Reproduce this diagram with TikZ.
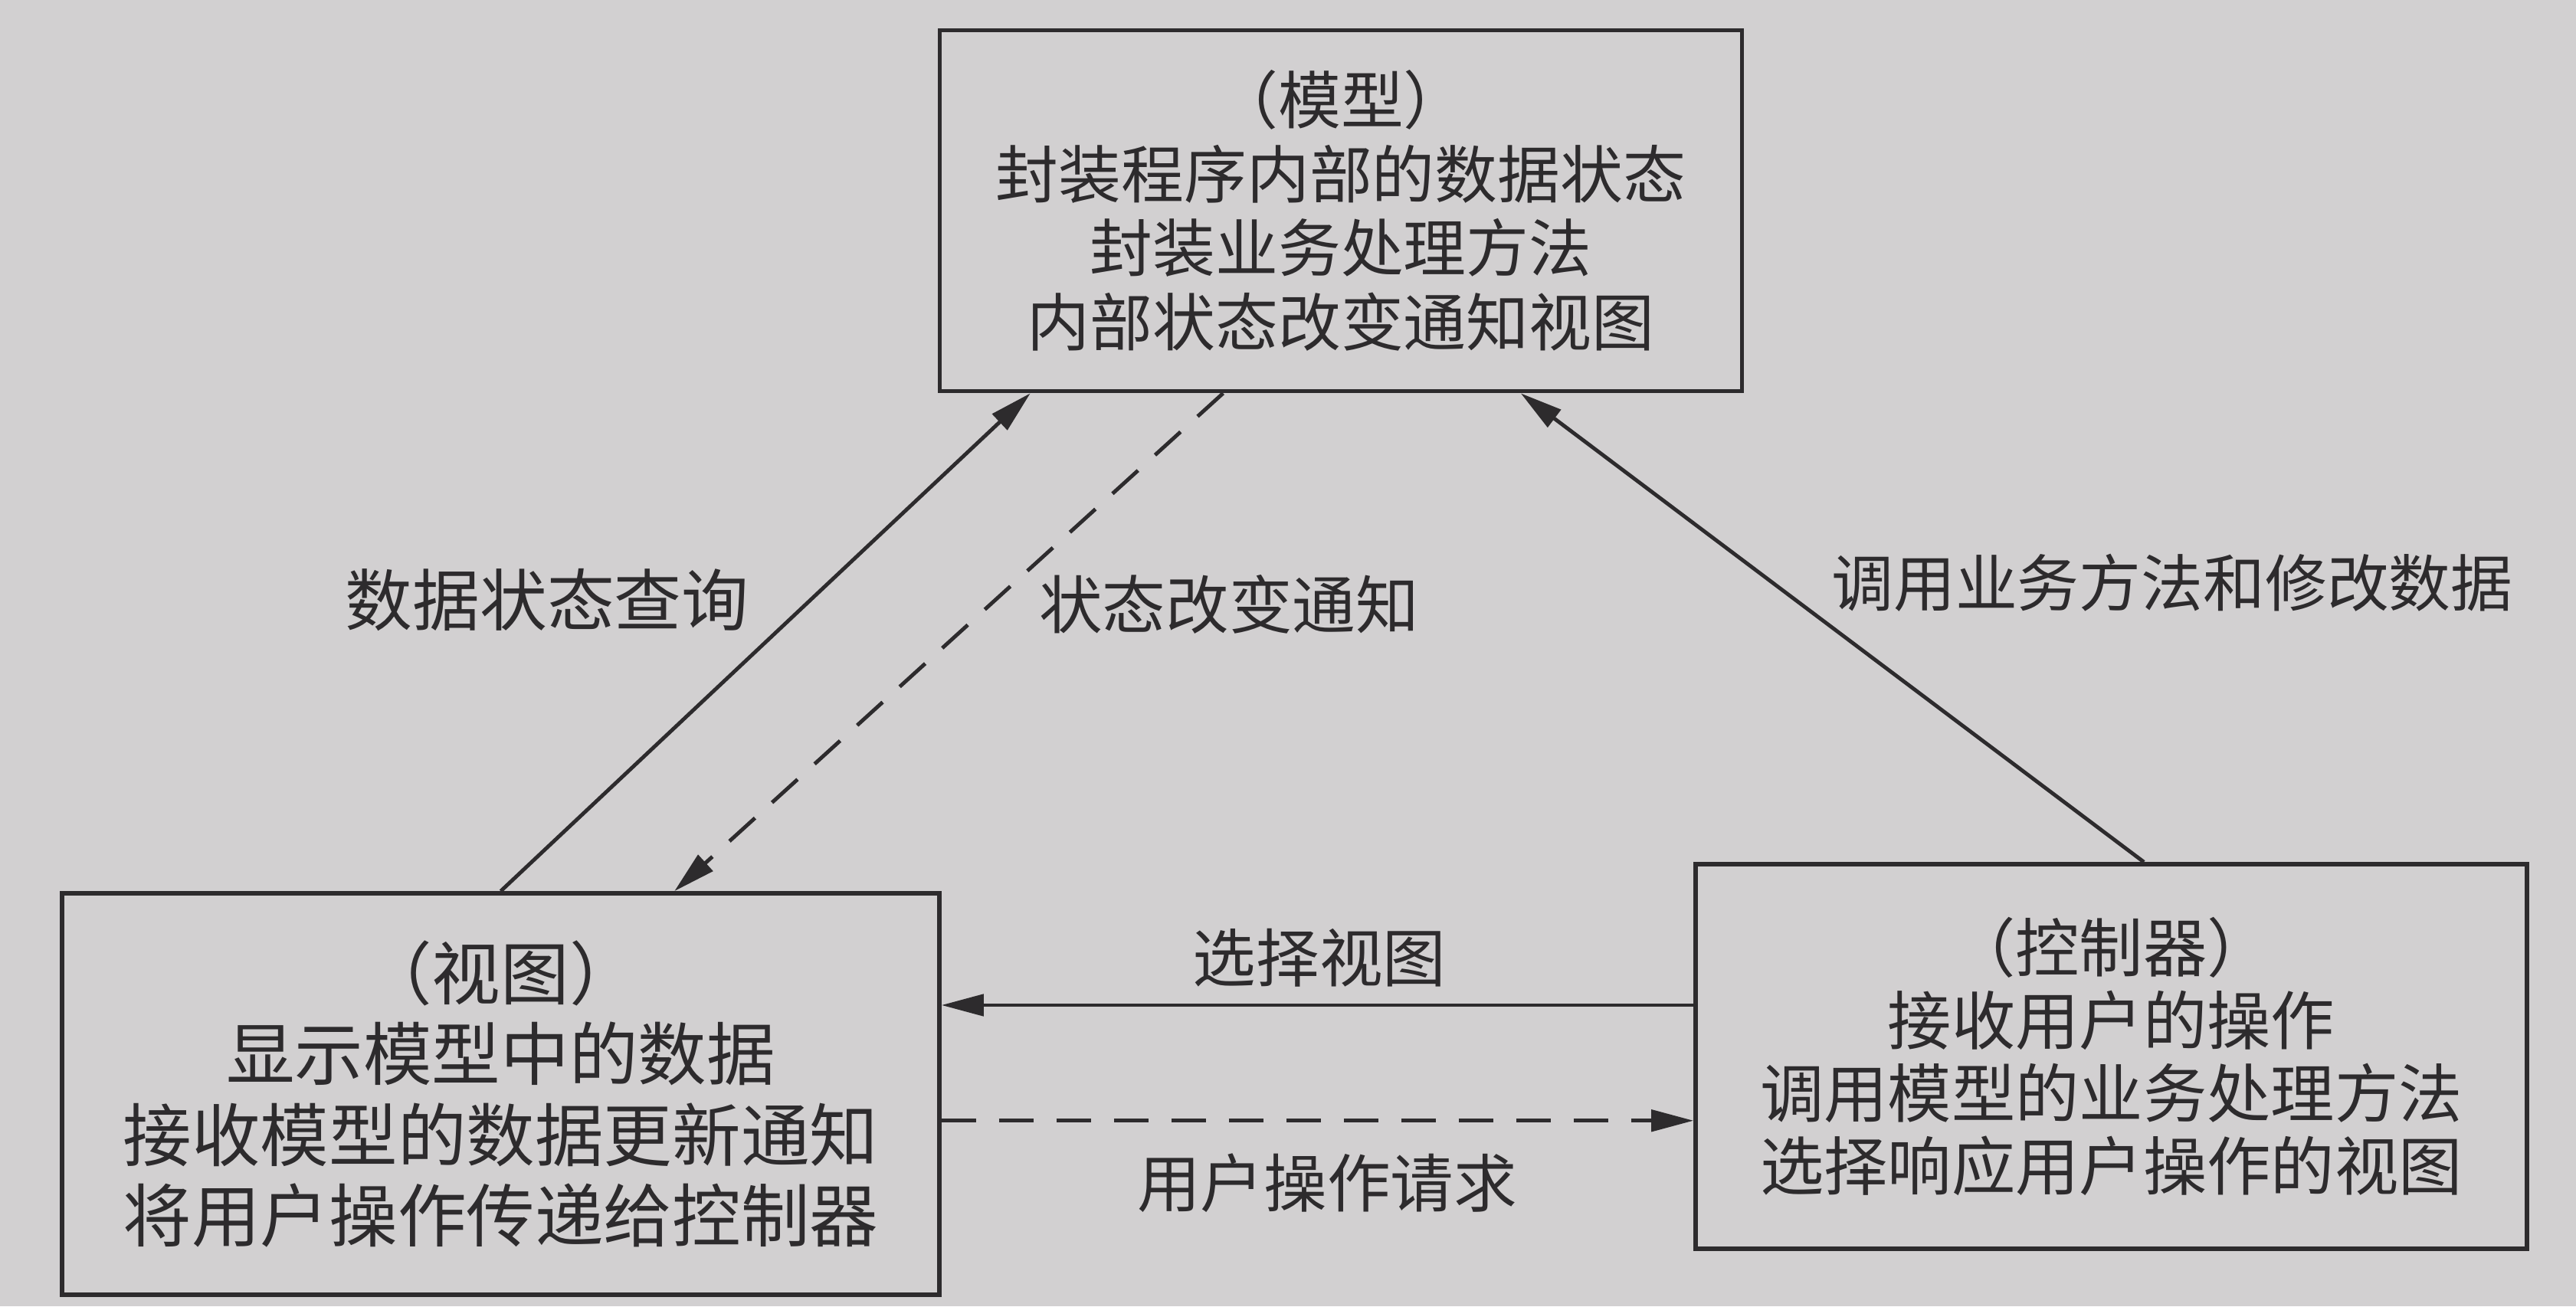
\documentclass[tikz,border=0pt]{standalone}
\usepackage{fontspec}
\setmainfont{Noto Sans CJK SC}
\usetikzlibrary{arrows.meta,calc}
\definecolor{paper}{RGB}{210,208,209}
\definecolor{ink}{RGB}{45,43,45}
\tikzset{
  mvcbox/.style={draw=ink, line width=1.6pt, inner sep=0pt, align=center,
    text=ink, font=\fontsize{23.3}{27.5}\selectfont},
  flow/.style={-{Triangle[length=5.5mm,width=2.8mm]}, line width=1.4pt, draw=ink},
  notify/.style={flow, dash pattern=on 4.5mm off 3mm},
  lab/.style={text=ink, font=\fontsize{23.5}{27}\selectfont},
}

\begin{document}
\begin{tikzpicture}

\fill[paper] (0,0) rectangle (33.62,17.05);
\useasboundingbox (0,0) rectangle (33.62,17.05);

% The three parts of the pattern.
\node[mvcbox, minimum width=10.47cm, minimum height=4.71cm] (model) at (17.50, 14.30)
  {（模型）\\封装程序内部的数据状态\\封装业务处理方法\\内部状态改变通知视图};
\node[mvcbox, minimum width=11.45cm, minimum height=5.24cm,
  font=\fontsize{25.5}{30}\selectfont] (view) at (6.535, 2.77)
  {（视图）\\显示模型中的数据\\接收模型的数据更新通知\\将用户操作传递给控制器};
\node[mvcbox, minimum width=10.85cm, minimum height=5.02cm,
  font=\fontsize{23.7}{27}\selectfont] (ctrl) at (27.555, 3.26)
  {（控制器）\\接收用户的操作\\调用模型的业务处理方法\\选择响应用户操作的视图};

% Where the connectors meet the box edges.
\coordinate (m_q) at ($(model.south west)!0.115!(model.south east)$);
\coordinate (m_n) at ($(model.south west)!0.354!(model.south east)$);
\coordinate (m_c) at ($(model.south west)!0.723!(model.south east)$);
\coordinate (v_n) at ($(view.north west)!0.697!(view.north east)$);
\coordinate (c_m) at ($(ctrl.north west)!0.539!(ctrl.north east)$);
\coordinate (c_s) at ($(ctrl.south west)!0.632!(ctrl.north west)$);
\coordinate (c_r) at ($(ctrl.south west)!0.335!(ctrl.north west)$);

\draw[flow] (view.north) -- (m_q);
\draw[notify] (m_n) -- (v_n);
\draw[flow] (c_m) -- (m_c);
\draw[flow] (c_s) -- (c_s -| view.east);
\draw[notify] (c_r -| view.east) -- (c_r);

\node[lab, font=\fontsize{25}{27}\selectfont] (l_query) at (7.14, 9.22) {数据状态查询};
\node[lab] (l_notify) at (16.04, 9.16) {状态改变通知};
\node[lab, font=\fontsize{23}{27}\selectfont] (l_call) at (28.35, 9.44) {调用业务方法和修改数据};
\node[lab] (l_select) at (17.22, 4.55) {选择视图};
\node[lab] (l_request) at (17.32, 1.61) {用户操作请求};

\end{tikzpicture}
\end{document}
